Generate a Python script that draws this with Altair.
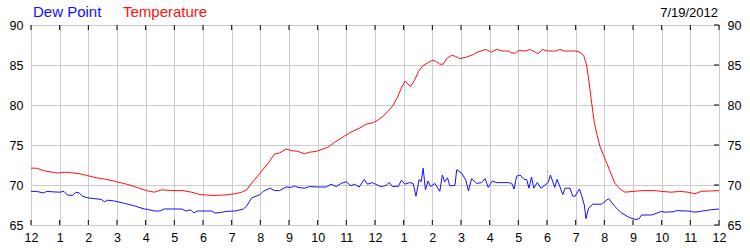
import altair as alt
import pandas as pd

# Temperature readings (hour of day, °F)
temp_hours = [0.0, 0.2, 0.43, 0.9, 1.25, 1.71, 1.94, 2.29, 2.64, 2.99, 3.34, 3.69, 4.03, 4.3, 4.56, 4.9,
              5.3, 5.6, 5.89, 6.3, 6.5, 6.88, 7.12, 7.35, 7.53, 7.64, 7.81, 8.04, 8.27, 8.5, 8.67, 8.9,
              9.08, 9.31, 9.54, 9.72, 9.95, 10.18, 10.35, 10.58, 10.93, 11.16, 11.45, 11.69, 11.94, 12.1,
              12.28, 12.45, 12.62, 12.8, 12.94, 13.05, 13.24, 13.38, 13.52, 13.67, 13.85, 14.02, 14.15,
              14.26, 14.38, 14.5, 14.67, 14.8, 14.96, 15.2, 15.43, 15.57, 15.86, 16.06, 16.24, 16.45,
              16.65, 16.77, 16.9, 17.0, 17.27, 17.4, 17.55, 17.68, 17.85, 18.0, 18.3, 18.45, 18.6, 19.0,
              19.15, 19.28, 19.38, 19.47, 19.56, 19.65, 19.75, 19.85, 20.02, 20.2, 20.37, 20.55, 20.72,
              21.0, 21.35, 21.76, 21.99, 22.34, 22.63, 22.92, 23.15, 23.38, 23.67, 24.0]
temp_values = [72.1, 72.1, 71.8, 71.5, 71.6, 71.4, 71.2, 70.9, 70.7, 70.4, 70.1, 69.7, 69.3, 69.1, 69.4, 69.3,
               69.3, 69.1, 68.8, 68.7, 68.7, 68.8, 68.9, 69.1, 69.4, 70.0, 70.7, 71.7, 72.7, 73.9, 74.0, 74.5,
               74.3, 74.2, 73.9, 74.1, 74.2, 74.5, 74.7, 75.3, 76.1, 76.6, 77.1, 77.6, 77.8, 78.1,
               78.6, 79.2, 79.9, 81.1, 82.3, 83.0, 82.3, 83.1, 84.2, 84.9, 85.3, 85.6, 85.4,
               85.1, 85.1, 85.8, 86.2, 86.1, 85.8, 86.0, 86.3, 86.6, 86.95, 86.6, 86.95, 86.75,
               86.75, 86.5, 86.5, 86.8, 86.75, 86.95, 86.7, 86.4, 86.95, 86.75, 86.75, 86.95, 86.75, 86.75,
               86.6, 86.2, 85.0, 82.8, 80.2, 77.8, 76.2, 74.8, 73.3, 71.7, 70.2, 69.5, 69.1,
               69.2, 69.3, 69.3, 69.2, 69.1, 69.2, 69.1, 68.9, 69.2, 69.25, 69.3]

# Dew point readings (hour of day, °F)
dew_hours = [0.0, 0.2, 0.43, 0.55, 0.75, 1.0, 1.15, 1.27, 1.45, 1.56, 1.68, 1.8, 1.97, 2.2, 2.45, 2.56, 2.68,
             2.91, 3.26, 3.6, 3.95, 4.07, 4.3, 4.5, 4.65, 5.26, 5.4, 5.57, 5.68, 5.8, 6.3, 6.42, 6.6, 6.8,
             7.12, 7.41, 7.53, 7.7, 7.99, 8.1, 8.33, 8.5, 8.67, 8.9, 9.08, 9.2, 9.31, 9.54, 9.72, 10.0,
             10.3, 10.47, 10.65, 10.82, 11.0, 11.16, 11.28, 11.45, 11.62, 11.74, 11.9, 12.17, 12.26, 12.4,
             12.5, 12.61, 12.75, 12.81, 12.92, 13.04, 13.21, 13.33, 13.43, 13.54, 13.61, 13.68, 13.76,
             13.85, 13.94, 14.09, 14.26, 14.35, 14.43, 14.53, 14.61, 14.79, 14.85, 15.02, 15.17, 15.26,
             15.37, 15.55, 15.72, 15.84, 15.95, 16.09, 16.24, 16.65, 16.77, 16.85, 16.94, 17.06, 17.2,
             17.29, 17.37, 17.46, 17.54, 17.66, 17.79, 17.93, 18.04, 18.12, 18.27, 18.35, 18.45, 18.55,
             18.63, 18.8, 18.9, 18.98, 19.13, 19.2, 19.3, 19.36, 19.45, 19.6, 19.9, 20.08, 20.15, 20.37,
             20.6, 20.84, 21.07, 21.2, 21.3, 21.65, 22.0, 22.1, 22.4, 22.52, 22.9, 23.04, 23.15, 23.35,
             23.7, 24.0]
dew_values = [69.2, 69.2, 69.0, 69.2, 69.15, 69.1, 69.2, 68.75, 68.7, 69.1, 69.0, 68.6, 68.4, 68.3, 68.2, 67.9, 68.1,
              68.0, 67.7, 67.4, 67.0, 66.95, 66.75, 66.75, 67.0, 67.0, 66.75, 66.9, 66.5, 66.75, 66.75, 66.5, 66.55, 66.7,
              66.75, 67.0, 67.4, 68.4, 68.8, 69.2, 69.6, 69.3, 69.3, 69.75, 69.7, 69.9, 69.7, 69.6, 69.8, 69.75,
              69.75, 70.1, 69.8, 70.2, 70.4, 69.9, 70.1, 69.75, 70.7, 70.1, 70.3, 69.85, 69.8, 70.0,
              70.3, 69.8, 69.85, 69.8, 70.6, 70.1, 70.3, 70.2, 68.6, 70.7, 70.4, 72.1, 69.4,
              70.5, 69.8, 70.2, 69.2, 71.25, 70.4, 70.9, 69.9, 69.95, 71.9, 71.5, 70.6, 69.25,
              70.8, 70.2, 70.3, 70.8, 69.7, 70.5, 70.3, 70.3, 70.2, 69.5, 71.1, 71.25, 70.7,
              70.7, 69.6, 71.0, 69.6, 70.3, 69.6, 70.0, 70.3, 71.25, 69.7, 70.7, 69.8, 68.8,
              69.6, 69.6, 68.6, 68.6, 69.5, 68.8, 67.5, 65.8, 67.1, 67.6, 67.6, 68.1, 68.3, 67.3,
              66.5, 66.0, 65.7, 65.75, 66.25, 66.25, 66.7, 66.6, 66.65, 66.8, 66.75, 66.7, 66.6, 66.7,
              66.9, 67.0]

series_names = ["Dew Point", "Temperature"]
series_colors = ["#1010ff", "#ff1010"]
hour_ticks = list(range(0, 25))
y_ticks = [65, 70, 75, 80, 85, 90]
date_label = "7/19/2012"

FONT = "Arial, Liberation Sans"

df = pd.concat([
    pd.DataFrame({"h": dew_hours, "v": dew_values, "s": "Dew Point", "o": range(len(dew_hours))}),
    pd.DataFrame({"h": temp_hours, "v": temp_values, "s": "Temperature", "o": range(len(temp_hours))}),
])

xscale = alt.Scale(domain=[0, 24], nice=False, zero=False)
yscale = alt.Scale(domain=[65, 90], nice=False, zero=False)

x_axis = alt.Axis(
    values=hour_ticks, title=None, grid=True, gridColor="#cccccc", gridWidth=1,
    tickSize=0, domain=False,
    labelExpr="datum.value % 12 == 0 ? '12' : '' + (datum.value % 12)",
    labelFont=FONT, labelFontSize=12.5, labelColor="black", labelPadding=6,
    labelFlush=False, labelOverlap=False, labelBound=False)

lines = alt.Chart(df).mark_line(strokeWidth=1, clip=True).encode(
    x=alt.X("h:Q", scale=xscale, axis=x_axis),
    y=alt.Y("v:Q", scale=yscale, axis=alt.Axis(
        values=y_ticks, title=None, grid=True, gridColor="#cccccc", gridWidth=1,
        tickSize=0, domain=False, orient="left",
        labelFont=FONT, labelFontSize=12.5, labelColor="black", labelPadding=8,
        labelFlush=False, labelOverlap=False, labelBound=False)),
    color=alt.Color("s:N", scale=alt.Scale(domain=series_names, range=series_colors), legend=None),
    order="o:Q",
    detail="s:N",
)

ytick_df = pd.DataFrame({"y": y_ticks})
right_axis = alt.Chart(ytick_df).mark_rule(color="black", strokeWidth=1).encode(
    y=alt.Y("y:Q", scale=yscale, axis=alt.Axis(
        values=y_ticks, title=None, grid=False, tickSize=0, domain=False, orient="right",
        labelFont=FONT, labelFontSize=12.5, labelColor="black", labelPadding=8,
        labelFlush=False, labelOverlap=False, labelBound=False)),
    x=alt.value(688), x2=alt.value(683),
)

xtick_df = pd.DataFrame({"h": hour_ticks})
bottom_ticks = alt.Chart(xtick_df).mark_rule(color="black", strokeWidth=1).encode(
    x=alt.X("h:Q", scale=xscale, axis=x_axis), y=alt.value(200), y2=alt.value(195))
top_ticks = alt.Chart(xtick_df).mark_rule(color="black", strokeWidth=1).encode(
    x=alt.X("h:Q", scale=xscale, axis=x_axis), y=alt.value(0), y2=alt.value(5))

t_dew = alt.Chart(pd.DataFrame({"t": [series_names[0]]})).mark_text(
    align="left", baseline="alphabetic", font=FONT, fontSize=15, color=series_colors[0]
).encode(text="t:N", x=alt.value(2), y=alt.value(-8))
t_temp = alt.Chart(pd.DataFrame({"t": [series_names[1]]})).mark_text(
    align="left", baseline="alphabetic", font=FONT, fontSize=15, color=series_colors[1]
).encode(text="t:N", x=alt.value(92), y=alt.value(-8))
t_date = alt.Chart(pd.DataFrame({"t": [date_label]})).mark_text(
    align="right", baseline="alphabetic", font=FONT, fontSize=13, color="black"
).encode(text="t:N", x=alt.value(687), y=alt.value(-8))

chart = alt.layer(lines, right_axis, bottom_ticks, top_ticks, t_dew, t_temp, t_date).resolve_axis(
    y="independent"
).properties(
    width=688, height=200,
    autosize=alt.AutoSizeParams(type="none"),
    padding={"left": 31, "top": 25, "right": 31, "bottom": 25},
    background="white",
).configure_view(stroke="black", strokeWidth=1)

chart.save("out.html", embed_options={"renderer": "svg", "actions": False})
